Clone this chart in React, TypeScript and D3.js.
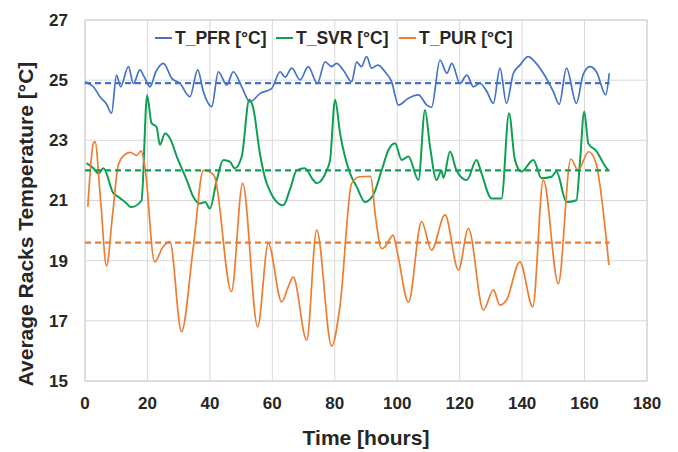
import React from 'react';
import * as d3 from 'd3';

const WIDTH = 678;
const HEIGHT = 452;
const MARGIN = { top: 20, right: 31, bottom: 71, left: 85 };
const FONT = '"Liberation Sans", Arial, sans-serif';

const X_TICKS = [0, 20, 40, 60, 80, 100, 120, 140, 160, 180];
const Y_TICKS = [15, 17, 19, 21, 23, 25, 27];

const SERIES_NAMES = ['T_PFR [°C]', 'T_SVR [°C]', 'T_PUR [°C]'];
const SERIES_COLORS = ['#4472C4', '#0E9F53', '#ED7D31'];
const SERIES_MEANS = [24.9, 22.0, 19.6];
const MEAN_SPAN = [0, 168];

// [hour, °C]
const PFR: [number, number][] = [
  [0, 24.95], [1, 24.9], [2.7, 24.78], [4.8, 24.45], [6.9, 24.2], [8.5, 23.9], [10.1, 25.17], [11.4, 24.78],
  [13.9, 25.45], [15.5, 24.89], [17.6, 25.34], [19, 25.1], [20.8, 24.78], [22.7, 25.28], [25.1, 25.56],
  [27.8, 25.06], [30.4, 24.89], [33.6, 24.45], [36.1, 25.34], [37.9, 24.62], [40.6, 24.12], [42.7, 25.28],
  [45.4, 24.84], [47.5, 25.28], [50.2, 24.78], [52.8, 24.28], [56.1, 24.56], [59.8, 24.73], [62.5, 25.28],
  [64.1, 25.1], [66.2, 25.4], [68.9, 25.01], [71.5, 25.45], [74.4, 24.89], [76.9, 25.61], [79, 25.45],
  [80.6, 25.56], [82.7, 25.34], [85.4, 24.95], [87, 25.61], [88.5, 25.45], [90.2, 25.78], [91.8, 25.4],
  [93.8, 25.5], [96.1, 25.28], [98.2, 24.95], [100.4, 24.17], [103.6, 24.4], [106.8, 24.51], [109.5, 24.17],
  [111, 24.1], [113.7, 25.67], [115.9, 25.23], [117.5, 25.56], [120.1, 24.89], [122.3, 25.17], [124.4, 24.78],
  [126.5, 24.89], [128.7, 24.62], [130.8, 24.23], [132.9, 25.4], [135, 24.23], [137.2, 25.23], [139.3, 25.5],
  [141.9, 25.78], [144.1, 25.61], [146.8, 25.23], [150, 24.62], [151.9, 24.2], [154.2, 25.4], [157.4, 24.23],
  [159.5, 25.17], [161.7, 25.45], [163.8, 25.28], [166.8, 24.51], [167.9, 25.23],
];

const SVR: [number, number][] = [
  [0.5, 22.24], [2.7, 22.07], [4.3, 21.9], [5.9, 22.07], [9.1, 21.24], [10.7, 21.12], [12.8, 20.95],
  [14.9, 20.78], [18.1, 21.0], [19.9, 24.5], [21.3, 23.57], [22.9, 23.45], [24, 22.85], [25.6, 23.23],
  [27.2, 23.07], [29.4, 22.46], [32.6, 21.68], [34.7, 21.12], [36.8, 20.9], [38.5, 20.95], [40, 20.73],
  [42.2, 21.68], [44.3, 22.35], [46.4, 22.29], [48, 22.07], [50.2, 22.46], [52.6, 24.35], [53.9, 24.07],
  [56, 22.57], [58.2, 21.57], [63.5, 20.84], [65.6, 21.35], [67.8, 22.0], [70.4, 22.07], [73.1, 21.68],
  [74.2, 21.57], [77.4, 22.0], [78.5, 22.35], [80.1, 24.35], [81.7, 23.23], [84.9, 21.9], [87, 21.46],
  [89.7, 20.95], [92.3, 21.18], [95, 22.0], [97.2, 22.68], [99.3, 22.9], [101.4, 22.35], [103.6, 22.46],
  [106.8, 21.68], [108.9, 24.01], [110.5, 22.79], [112.6, 21.68], [114.2, 22.0], [114.8, 21.75],
  [116.9, 22.63], [119, 22.0], [122.3, 21.68], [125.4, 22.35], [127, 21.9], [130.2, 21.07], [133.4, 21.07],
  [135.8, 23.9], [137.7, 22.35], [139.8, 21.96], [143.6, 22.35], [146.2, 21.74], [149.4, 21.79], [151, 21.96],
  [154.2, 20.95], [157.4, 21.01], [158.5, 22.24], [159.9, 23.96], [161.2, 22.9], [163.9, 22.63], [166, 22.24],
  [167.6, 22.0],
];

const PUR: [number, number][] = [
  [0.9, 20.79], [2.7, 22.91], [3.2, 22.96], [5, 21.0], [6.9, 18.82], [8.8, 20.5], [10.7, 22.2], [12.5, 22.5],
  [14.5, 22.6], [16.5, 22.5], [18, 22.65], [19.2, 22.1], [22.3, 18.96], [25, 19.46], [27.2, 19.63],
  [30.9, 16.64], [34.7, 19.46], [37.9, 22.0], [40, 21.95], [41.5, 21.8], [46.9, 17.97], [50.5, 21.57],
  [55.3, 16.8], [58.7, 19.57], [63, 17.63], [65.1, 18.13], [66.7, 18.46], [71, 16.36], [74.2, 20.02],
  [79, 16.16], [81.7, 17.52], [85.4, 21.57], [88, 21.79], [91.5, 21.8], [93, 20.5], [95, 19.4], [96, 19.45],
  [97.5, 19.7], [98.7, 19.85], [100, 19.3], [103.6, 17.62], [107.8, 20.3], [111, 19.35], [115.3, 20.52],
  [119.6, 18.69], [122.8, 20.07], [127.6, 17.36], [130.8, 18.03], [132.9, 17.52], [135, 17.69], [139.3, 18.96],
  [143.4, 17.47], [146.8, 21.68], [151.6, 18.24], [155.6, 22.38], [157.9, 22.01], [161.3, 22.62],
  [163.5, 22.3], [167.8, 18.85],
];

const SERIES = [PFR, SVR, PUR];
const LINE_WIDTHS = [1.7, 2, 1.7];

export default function App() {
  const innerW = WIDTH - MARGIN.left - MARGIN.right;
  const innerH = HEIGHT - MARGIN.top - MARGIN.bottom;

  const x = d3.scaleLinear().domain([0, 180]).range([0, innerW]);
  const y = d3.scaleLinear().domain([15, 27]).range([innerH, 0]);

  const line = d3.line<[number, number]>()
    .x(d => x(d[0]))
    .y(d => y(d[1]))
    .curve(d3.curveMonotoneX);

  // legend items placed along the top of the plot
  const legendX = [155, 276, 399];

  return (
    <div style={{ position: 'absolute', left: 0, top: 0 }}>
      <svg width={WIDTH} height={HEIGHT} style={{ display: 'block', background: '#fff' }}>
        <g transform={`translate(${MARGIN.left},${MARGIN.top})`}>
          {Y_TICKS.map(t => (
            <line key={`gy${t}`} x1={0} x2={innerW} y1={y(t)} y2={y(t)} stroke="#d9d9d9" strokeWidth={1} />
          ))}
          {X_TICKS.map(t => (
            <line key={`gx${t}`} x1={x(t)} x2={x(t)} y1={0} y2={innerH} stroke="#d9d9d9" strokeWidth={1} />
          ))}
          <rect x={0} y={0} width={innerW} height={innerH} fill="none" stroke="#d0d0d0" strokeWidth={1} />

          {SERIES.map((s, i) => (
            <path key={`s${i}`} d={line(s) || ''} fill="none" stroke={SERIES_COLORS[i]}
              strokeWidth={LINE_WIDTHS[i]} strokeLinejoin="round" />
          ))}
          {SERIES_MEANS.map((m, i) => (
            <line key={`m${i}`} x1={x(MEAN_SPAN[0])} x2={x(MEAN_SPAN[1])} y1={y(m)} y2={y(m)}
              stroke={SERIES_COLORS[i]} strokeWidth={2.2} strokeDasharray="6,4" />
          ))}

          {Y_TICKS.map(t => (
            <text key={`ly${t}`} x={-17} y={y(t)} dy="0.35em" textAnchor="end"
              fontFamily={FONT} fontWeight="bold" fontSize={17} fill="#262626">{t}</text>
          ))}
          {X_TICKS.map(t => (
            <text key={`lx${t}`} x={x(t)} y={innerH + 22} dy="0.35em" textAnchor="middle"
              fontFamily={FONT} fontWeight="bold" fontSize={17} fill="#262626">{t}</text>
          ))}
        </g>

        {SERIES_NAMES.map((name, i) => (
          <g key={`lg${i}`} transform={`translate(${legendX[i]},38)`}>
            <line x1={0} x2={17} y1={0} y2={0} stroke={SERIES_COLORS[i]} strokeWidth={2} />
            <text x={20} y={0} dy="0.35em" fontFamily={FONT} fontWeight="bold" fontSize={17.5} fill="#262626">{name}</text>
          </g>
        ))}

        <text x={MARGIN.left + innerW / 2} y={445} textAnchor="middle"
          fontFamily={FONT} fontWeight="bold" fontSize={21} fill="#262626">Time [hours]</text>
        <text transform="translate(33,224) rotate(-90)" textAnchor="middle"
          fontFamily={FONT} fontWeight="bold" fontSize={21} fill="#262626">Average Racks Temperature [°C]</text>
      </svg>
    </div>
  );
}
